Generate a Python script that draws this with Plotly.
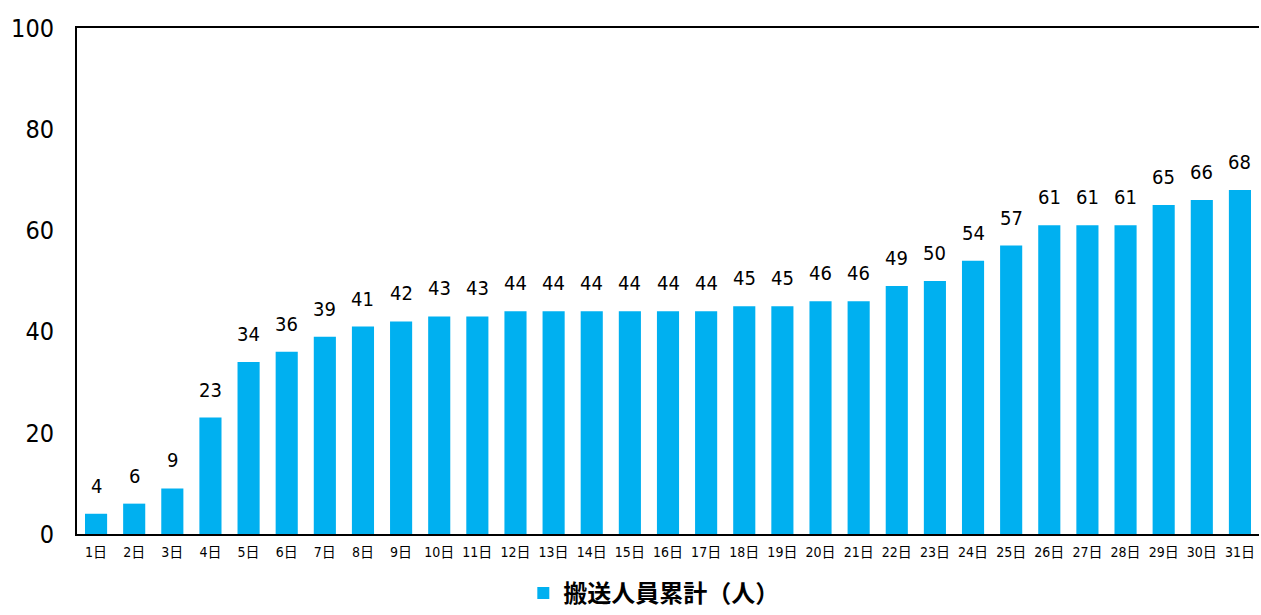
import plotly.graph_objects as go

days = [f"{i}日" for i in range(1, 32)]
values = [4, 6, 9, 23, 34, 36, 39, 41, 42, 43, 43, 44, 44, 44, 44, 44, 44, 45, 45, 46, 46, 49, 50, 54, 57, 61, 61, 61, 65, 66, 68]
series_name = "搬送人員累計（人）"
yticks = [0, 20, 40, 60, 80, 100]

font_num = "DejaVu Sans Condensed, Noto Sans CJK JP, sans-serif"

fig = go.Figure()
fig.add_trace(go.Bar(
    x=days, y=values, name=series_name,
    marker=dict(color="#00B0F0", line=dict(width=0)),
))

for d, v in zip(days, values):
    fig.add_annotation(x=d, y=v, text=str(v), showarrow=False,
                       yanchor="bottom", yshift=14,
                       font=dict(family=font_num, size=20, color="#000000"))

fig.update_layout(
    width=1261, height=615,
    margin=dict(l=77, r=2, t=28, b=81),
    paper_bgcolor="white", plot_bgcolor="white",
    bargap=0.42,
    showlegend=True,
    legend=dict(orientation="h", x=0.488, xanchor="center",
                yref="container", y=0.035, yanchor="middle",
                font=dict(family="Noto Sans CJK JP", size=24, color="#000000", weight="bold"),
                itemwidth=30),
    xaxis=dict(showline=True, linecolor="#000000", linewidth=2, mirror=True,
               ticks="", showgrid=False, automargin=False, ticklabelstandoff=4,
               tickfont=dict(family=font_num, size=14, color="#000000")),
    yaxis=dict(range=[0, 100], tickvals=yticks, showgrid=False, zeroline=False,
               showline=True, linecolor="#000000", linewidth=2,
               ticks="", ticklabelstandoff=16, automargin=False,
               tickfont=dict(family=font_num, size=25, color="#000000")),
)

fig.write_html("out.html", config={"displayModeBar": False},
               post_script="document.body.style.margin='0';")
